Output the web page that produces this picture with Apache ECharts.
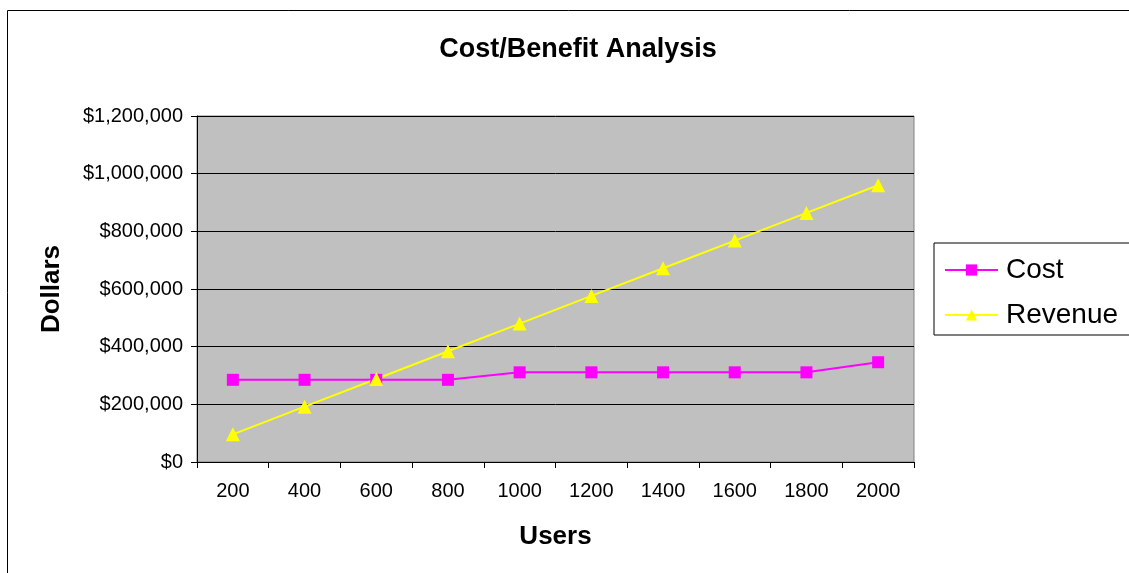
<!DOCTYPE html>
<html><head><meta charset="utf-8">
<script src="https://cdn.jsdelivr.net/npm/echarts@6/dist/echarts.min.js"></script>
<style>html,body{margin:0;padding:0;background:#fff;}#c{width:1129px;height:573px;}</style>
</head><body><div id="c"></div>
<script>
const users = ['200','400','600','800','1000','1200','1400','1600','1800','2000'];
const cost = [285000, 285000, 285000, 285000, 311000, 311000, 311000, 311000, 311000, 346000];
const revenue = [96000, 192000, 288000, 384000, 480000, 576000, 672000, 768000, 864000, 960000];
const yTicks = [0, 200000, 400000, 600000, 800000, 1000000, 1200000];

const font = 'Liberation Sans, Arial, sans-serif';
const chart = echarts.init(document.getElementById('c'), null, {renderer: 'canvas'});
function money(v){ return '$' + v.toLocaleString('en-US'); }
chart.setOption({
  animation: false,
  backgroundColor: '#fff',
  textStyle: {fontFamily: font},
  graphic: [{
    type: 'rect', silent: true, z: -10,
    shape: {x: 7.5, y: 10.5, width: 1200, height: 700},
    style: {fill: 'none', stroke: '#000', lineWidth: 1}
  }],
  title: {
    text: 'Cost/Benefit Analysis', left: 573, top: 31, textAlign: 'center',
    textStyle: {fontFamily: font, fontSize: 27, fontWeight: 'bold', color: '#000'}
  },
  legend: {
    orient: 'vertical', left: 934, top: 243,
    borderColor: '#000', borderWidth: 1,
    padding: [13, 40, 6, 10], itemGap: 17,
    itemWidth: 53, itemHeight: 14,
    textStyle: {fontFamily: font, fontSize: 28, color: '#000', padding: [0, 0, 0, 3]},
    data: ['Cost', 'Revenue']
  },
  grid: {left: 197, top: 116, width: 717, height: 346, show: true,
         backgroundColor: '#c0c0c0', borderColor: '#808080', borderWidth: 1},
  xAxis: {
    type: 'category', data: users, boundaryGap: true,
    name: 'Users', nameLocation: 'middle', nameGap: 62,
    nameTextStyle: {fontFamily: font, fontSize: 26, fontWeight: 'bold', color: '#000'},
    axisLine: {lineStyle: {color: '#000', width: 1}},
    axisTick: {show: true, length: 6, lineStyle: {color: '#000'}},
    axisLabel: {fontFamily: font, fontSize: 20, color: '#000', margin: 19}
  },
  yAxis: {
    type: 'value', min: 0, max: 1200000, interval: 200000,
    name: 'Dollars', nameLocation: 'middle', nameGap: 132, nameRotate: 90,
    nameTextStyle: {fontFamily: font, fontSize: 26, fontWeight: 'bold', color: '#000'},
    axisLine: {show: true, lineStyle: {color: '#000', width: 1}},
    axisTick: {show: true, length: 6, lineStyle: {color: '#000'}},
    splitLine: {show: true, lineStyle: {color: '#000', width: 1}},
    axisLabel: {fontFamily: font, fontSize: 20, color: '#000', margin: 14,
      formatter: v => yTicks.includes(v) ? money(v) : ''}
  },
  series: [
    {name: 'Cost', type: 'line', data: cost, symbol: 'rect', symbolSize: 12,
     lineStyle: {color: '#ff00ff', width: 2}, itemStyle: {color: '#ff00ff'}},
    {name: 'Revenue', type: 'line', data: revenue, symbol: 'triangle', symbolSize: 14,
     lineStyle: {color: '#ffff00', width: 2}, itemStyle: {color: '#ffff00'}}
  ]
});
</script></body></html>
